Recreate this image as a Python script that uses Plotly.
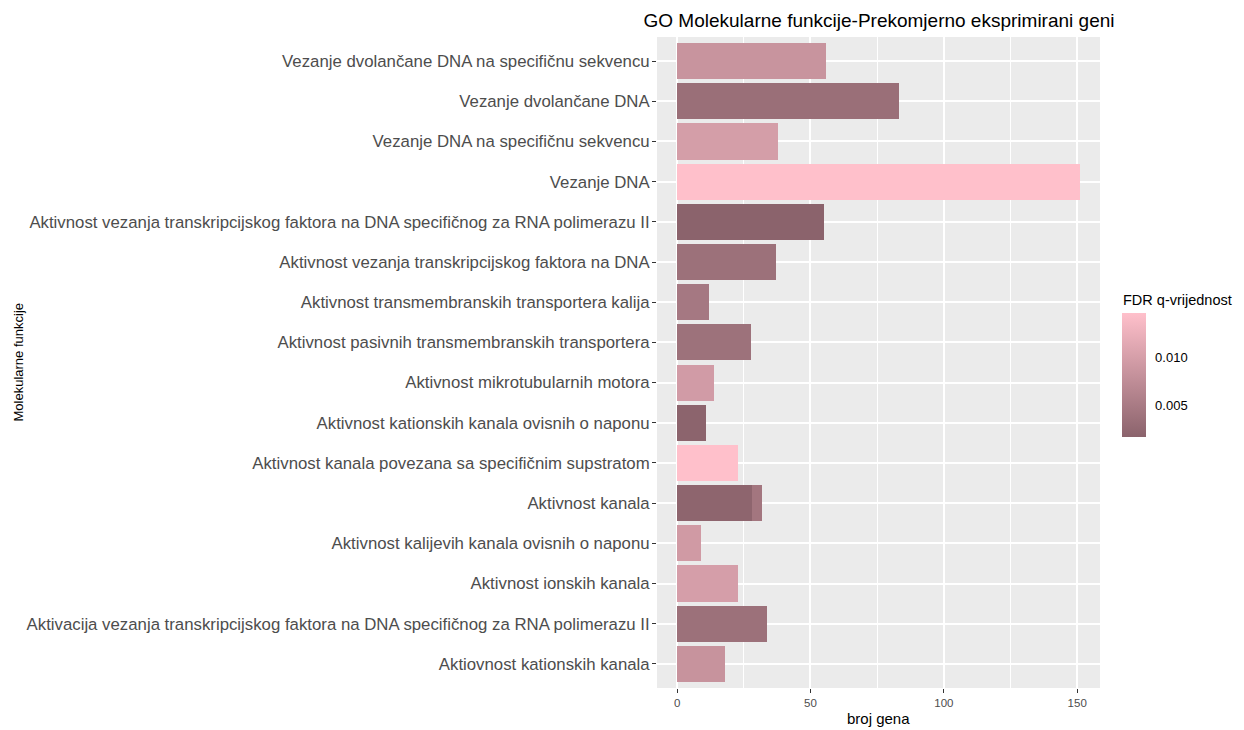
import plotly.graph_objects as go

categories = [
    "Aktiovnost kationskih kanala",
    "Aktivacija vezanja transkripcijskog faktora na DNA specifičnog za RNA polimerazu II",
    "Aktivnost ionskih kanala",
    "Aktivnost kalijevih kanala ovisnih o naponu",
    "Aktivnost kanala",
    "Aktivnost kanala povezana sa specifičnim supstratom",
    "Aktivnost kationskih kanala ovisnih o naponu",
    "Aktivnost mikrotubularnih motora",
    "Aktivnost pasivnih transmembranskih transportera",
    "Aktivnost transmembranskih transportera kalija",
    "Aktivnost vezanja transkripcijskog faktora na DNA",
    "Aktivnost vezanja transkripcijskog faktora na DNA specifičnog za RNA polimerazu II",
    "Vezanje DNA",
    "Vezanje DNA na specifičnu sekvencu",
    "Vezanje dvolančane DNA",
    "Vezanje dvolančane DNA na specifičnu sekvencu",
]
gene_counts = [18, 33.6, 23, 9, 28, 23, 11, 14, 27.6, 12, 37, 55, 151, 38, 83, 56]
fdr_q = [0.0084, 0.0037, 0.0099, 0.0093, 0.0021, 0.0145, 0.0019, 0.0095,
         0.0038, 0.0047, 0.0037, 0.0018, 0.0145, 0.0098, 0.0034, 0.0085]

# second entry with the same term (stacked on top, as in ggplot)
extra_categories = ["Aktivnost kanala"]
extra_counts = [4]
extra_q = [0.0044]

q_min, q_max = 0.0018, 0.0145
cbar_ticks = [0.005, 0.010]
cbar_ticktext = ["0.005", "0.010"]
scale = [[0, "#8B636C"], [1, "#FFC0CB"]]

# page body has an 8px margin, so figure coords = screen coords - 8
OFF = 8
W, H = 1244 - OFF, 730 - OFF
PL, PR, PT, PB = 657 - OFF, 1100 - OFF, 37 - OFF, 688 - OFF

# colorbar geometry (screen px)
CB_L, CB_R, CB_T, CB_B = 1122, 1146, 313, 437


def px(xs):
    return (xs - OFF - PL) / (PR - PL)


def py(ys):
    return 1 - (ys - OFF - PT) / (PB - PT)


fig = go.Figure()
fig.add_trace(go.Bar(
    y=categories, x=gene_counts, orientation="h", width=0.9,
    marker=dict(color=fdr_q, colorscale=scale, cmin=q_min, cmax=q_max,
                line=dict(width=0),
                showscale=True,
                colorbar=dict(
                    xref="paper", yref="paper",
                    x=px(CB_L), xanchor="left",
                    y=py((CB_T + CB_B) / 2), yanchor="middle",
                    lenmode="pixels", len=CB_B - CB_T, thickness=CB_R - CB_L,
                    outlinewidth=0, xpad=0, ypad=0,
                    tickvals=cbar_ticks, ticktext=cbar_ticktext,
                    ticks="outside", ticklen=7, tickcolor="rgba(0,0,0,0)",
                    tickfont=dict(family="Liberation Sans", size=13, color="#000000"),
                )),
    hoverinfo="x+y", showlegend=False,
))
fig.add_trace(go.Bar(
    y=extra_categories, x=extra_counts, orientation="h", width=0.9,
    marker=dict(color=extra_q, colorscale=scale, cmin=q_min, cmax=q_max,
                line=dict(width=0), showscale=False),
    showlegend=False,
))

# white tick marks inside the colour bar (ggplot style)
shapes = []
for v in cbar_ticks:
    yy = CB_B - (v - q_min) / (q_max - q_min) * (CB_B - CB_T)
    for x0, x1 in [(CB_L, CB_L + 5), (CB_R - 5, CB_R)]:
        shapes.append(dict(type="line", xref="paper", yref="paper",
                           x0=px(x0), x1=px(x1), y0=py(yy), y1=py(yy),
                           line=dict(color="white", width=1)))

fig.update_layout(
    width=W, height=H,
    barmode="stack",
    paper_bgcolor="white", plot_bgcolor="#EBEBEB",
    margin=dict(l=PL, r=W - PR, t=PT, b=H - PB, autoexpand=False),
    font=dict(family="Liberation Sans"),
    title=dict(text="GO Molekularne funkcije-Prekomjerno eksprimirani geni",
               xref="container", yref="container",
               x=(879 - OFF) / W, xanchor="center", y=1 - (20 - OFF) / H, yanchor="middle",
               font=dict(size=19, color="#000000")),
    xaxis=dict(range=[-7.55, 158.55], tickvals=[0, 50, 100, 150],
               showgrid=True, gridcolor="white", gridwidth=2,
               minor=dict(tickvals=[25, 75, 125], showgrid=True, gridcolor="white", gridwidth=1),
               zeroline=False, ticks="outside", ticklen=4, tickcolor="#333333",
               tickfont=dict(size=11.5, color="#4D4D4D"), automargin=False),
    yaxis=dict(categoryorder="array", categoryarray=categories,
               range=[-0.6, 15.6],
               showgrid=True, gridcolor="white", gridwidth=2,
               zeroline=False, ticks="outside", ticklen=4, tickcolor="#333333",
               ticklabelstandoff=-1,
               tickfont=dict(size=16.8, color="#4D4D4D"), automargin=False),
    shapes=shapes,
    annotations=[
        dict(text="broj gena", xref="paper", yref="paper",
             x=0.5, y=py(718), xanchor="center", yanchor="middle",
             showarrow=False, font=dict(size=15, color="#000000")),
        dict(text="Molekularne funkcije", xref="paper", yref="paper",
             x=px(18), y=0.5, xanchor="center", yanchor="middle",
             textangle=-90, showarrow=False, font=dict(size=13, color="#000000")),
        dict(text="FDR q-vrijednost", xref="paper", yref="paper",
             x=px(1121), y=py(300), xanchor="left", yanchor="middle",
             showarrow=False, font=dict(size=14.5, color="#000000")),
    ],
)

fig.write_html("out.html")
